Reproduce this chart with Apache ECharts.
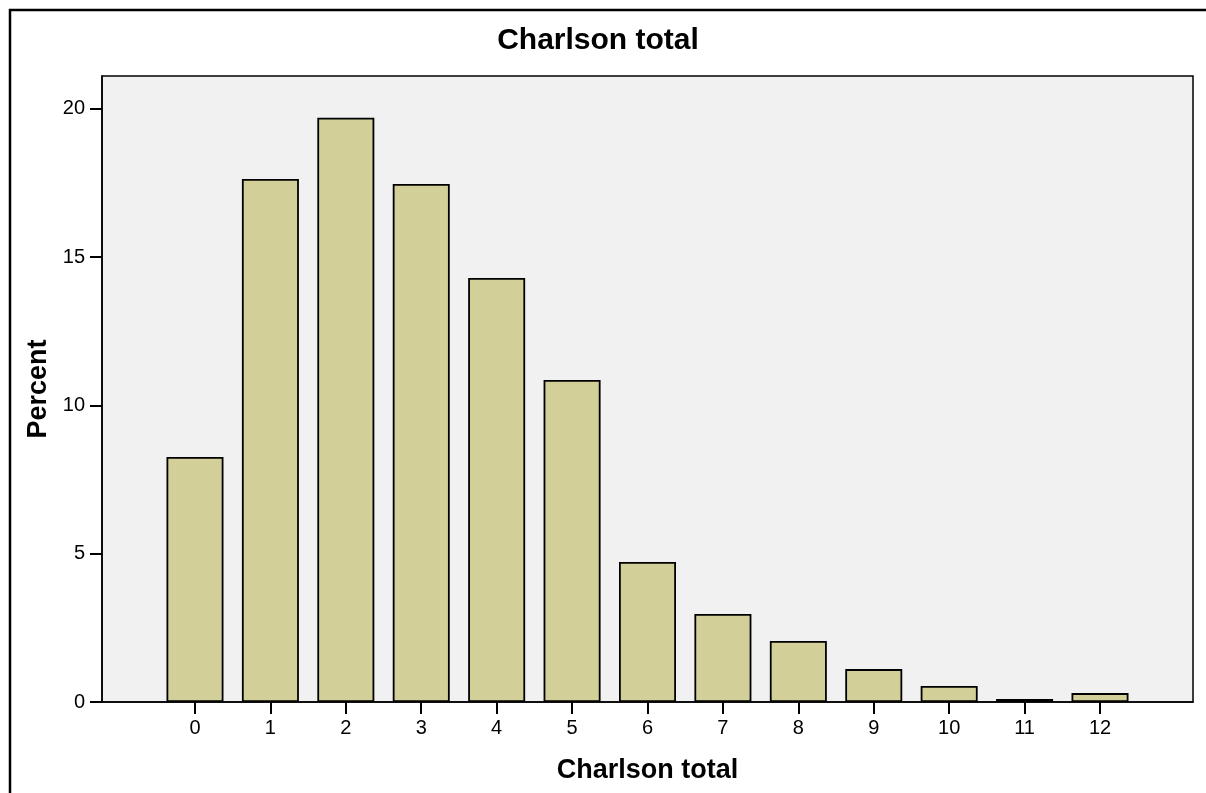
<!DOCTYPE html>
<html><head><meta charset="utf-8">
<script src="https://cdn.jsdelivr.net/npm/echarts@6/dist/echarts.min.js"></script>
<style>html,body{margin:0;padding:0;background:#fff}#c{width:1206px;height:793px}</style>
</head><body><div id="c"></div>
<script>
const categories = [0,1,2,3,4,5,6,7,8,9,10,11,12];
const percentValues = [8.26,17.64,19.70,17.47,14.30,10.86,4.72,2.97,2.06,1.11,0.54,0.10,0.30];
const yTicks = [0,5,10,15,20];

const chart = echarts.init(document.getElementById('c'));
const font = 'Liberation Sans, Arial, sans-serif';
chart.setOption({
  animation:false,
  backgroundColor:'#ffffff',
  title:{text:'Charlson total',left:593,top:21,textAlign:'center',
    textStyle:{fontFamily:font,fontWeight:'bold',fontSize:30,color:'#000'}},
  graphic:[
    {type:'polyline',shape:{points:[[10,793],[10,10],[1206,10]]},style:{stroke:'#000',lineWidth:2.5,fill:null},silent:true}
  ],
  grid:{left:102,right:13,top:76,bottom:91,show:true,backgroundColor:'#f0f1f0',borderColor:'#000',borderWidth:1.5},
  xAxis:{type:'value',min:-1.233,max:13.233,
    name:'Charlson total',nameLocation:'middle',nameGap:55,
    nameTextStyle:{fontFamily:font,fontWeight:'bold',fontSize:27,color:'#000'},
    axisLine:{show:true,onZero:false,lineStyle:{color:'#000',width:1.5}},
    axisTick:{show:true,length:12,lineStyle:{color:'#000',width:2},customValues:categories},
    axisLabel:{fontFamily:font,fontSize:20,color:'#000',margin:16,customValues:categories},
    splitLine:{show:false}},
  yAxis:{type:'value',min:0,max:21.11,
    name:'Percent',nameLocation:'middle',nameGap:49,
    nameTextStyle:{fontFamily:font,fontWeight:'bold',fontSize:27,color:'#000'},
    axisLine:{show:true,onZero:false,lineStyle:{color:'#000',width:1.5}},
    axisTick:{show:true,length:12,lineStyle:{color:'#000',width:2},customValues:yTicks},
    axisLabel:{fontFamily:font,fontSize:20,color:'#000',margin:17,customValues:yTicks},
    splitLine:{show:false}},
  series:[{type:'bar',barWidth:57,
    data:categories.map((c,i)=>[c,percentValues[i]]),
    itemStyle:{color:'#d3cf98',borderColor:'#000',borderWidth:1.8}}]
});
</script></body></html>
